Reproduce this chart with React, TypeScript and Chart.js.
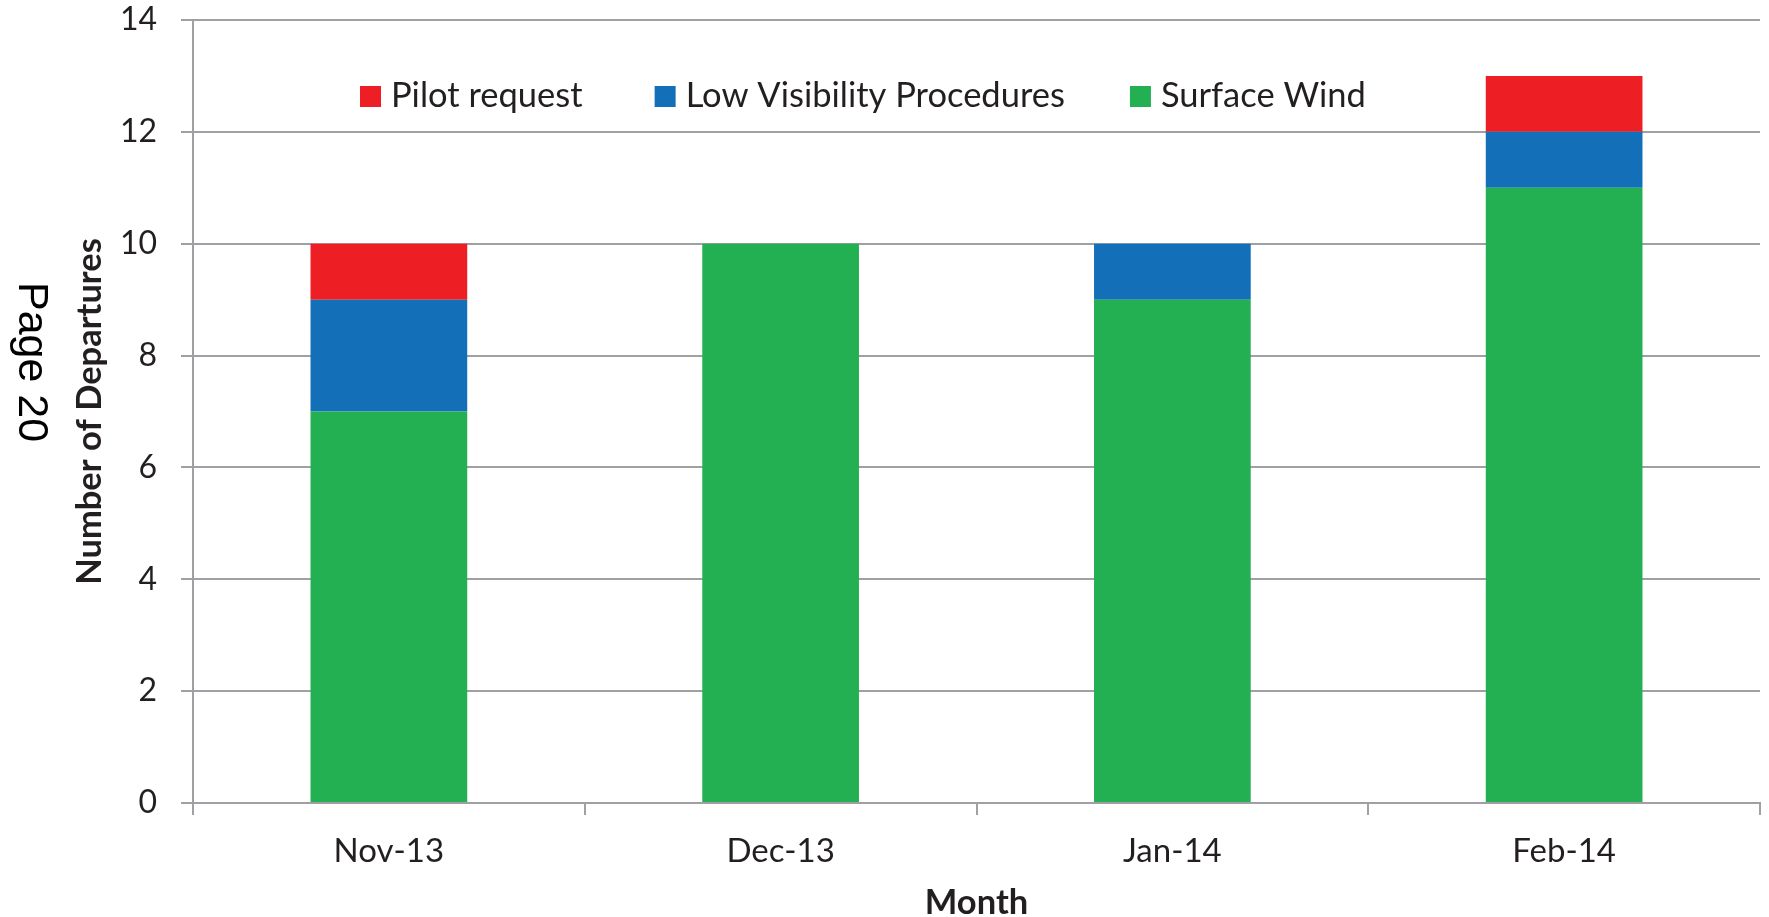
import React, { useEffect, useRef } from "react";
import { Chart, registerables } from "chart.js";

Chart.register(...registerables);

// ---- data ----
const months: string[] = ["Nov-13", "Dec-13", "Jan-14", "Feb-14"];
const surfaceWind: number[] = [7, 10, 9, 11];
const lowVisibility: number[] = [2, 0, 1, 1];
const pilotRequest: number[] = [1, 0, 0, 1];
const seriesLabels: string[] = ["Surface Wind", "Low Visibility Procedures", "Pilot request"];
const seriesColors: string[] = ["#23B052", "#1370B8", "#ED1F24"];
const yMin = 0;
const yMax = 14;
const yStep = 2;
const xTitle = "Month";
const yTitle = "Number of Departures";
const pageLabel = "Page 20";

const TEXT = "#231F20";
const GRID = "#A0A0A4";
const FONT = "Lato, 'Open Sans', sans-serif";
const LEGEND_GAPS = [72, 65, 0];

const insideLegend = {
  id: "insideLegend",
  afterDraw(chart: any) {
    const { ctx, chartArea } = chart;
    ctx.save();
    ctx.font = `34.5px ${FONT}`;
    ctx.textBaseline = "alphabetic";
    ctx.textAlign = "left";
    let x = chartArea.left + 167;
    const baseY = chartArea.top + 87;
    const items = chart.data.datasets.slice().reverse();
    items.forEach((ds: any, i: number) => {
      ctx.fillStyle = ds.backgroundColor;
      ctx.fillRect(x, baseY - 21, 21, 21);
      ctx.fillStyle = TEXT;
      ctx.fillText(ds.label, x + 31, baseY);
      x += 31 + ctx.measureText(ds.label).width + LEGEND_GAPS[i];
    });
    ctx.restore();
  },
};

const pageText = {
  id: "pageText",
  afterDraw(chart: any) {
    const { ctx } = chart;
    ctx.save();
    ctx.translate(19, 282);
    ctx.rotate(Math.PI / 2);
    ctx.font = `43px 'Liberation Sans', Arial, sans-serif`;
    ctx.fillStyle = "#000000";
    ctx.textBaseline = "alphabetic";
    ctx.textAlign = "left";
    ctx.fillText(pageLabel, 0, 0);
    ctx.restore();
  },
};

export default function App() {
  const canvasRef = useRef<HTMLCanvasElement | null>(null);

  useEffect(() => {
    document.body.style.margin = "0";
    const canvas = canvasRef.current;
    if (!canvas) return;
    const data = [surfaceWind, lowVisibility, pilotRequest];
    const chart = new Chart(canvas, {
      type: "bar",
      data: {
        labels: months,
        datasets: data.map((values, i) => ({
          label: seriesLabels[i],
          data: values,
          backgroundColor: seriesColors[i],
          borderWidth: 0,
          barPercentage: 0.4,
          categoryPercentage: 1,
        })),
      },
      options: {
        responsive: false,
        animation: false,
        devicePixelRatio: 1,
        layout: { padding: { left: 0, right: 9, top: 20, bottom: 0 } },
        plugins: {
          legend: { display: false },
          tooltip: { enabled: false },
          title: { display: false },
        },
        scales: {
          x: {
            stacked: true,
            grid: {
              offset: true,
              drawOnChartArea: false,
              drawTicks: true,
              tickLength: 12,
              color: GRID,
              lineWidth: 2,
            },
            border: { display: true, color: GRID, width: 2 },
            ticks: {
              color: TEXT,
              font: { family: FONT, size: 33 },
              padding: 17,
              maxRotation: 0,
            },
            title: {
              display: true,
              text: xTitle,
              color: TEXT,
              font: { family: FONT, size: 34.5, weight: "bold", lineHeight: 0.8 },
              padding: { top: 0, bottom: 0 },
            },
            afterFit(scale: any) {
              scale.height = 114;
              scale.paddingLeft = 0;
              scale.paddingRight = 0;
            },
          },
          y: {
            stacked: true,
            min: yMin,
            max: yMax,
            grid: {
              drawTicks: true,
              tickLength: 12,
              color: GRID,
              lineWidth: 2,
            },
            border: { display: true, color: GRID, width: 2 },
            ticks: {
              stepSize: yStep,
              color: TEXT,
              font: { family: FONT, size: 32 },
              padding: 24,
            },
            title: {
              display: true,
              text: yTitle,
              color: TEXT,
              font: { family: FONT, size: 34.5, weight: "bold", lineHeight: 1 },
              padding: { top: 73, bottom: 0 },
            },
            afterFit(scale: any) {
              scale.width = 193;
              scale.paddingTop = 0;
              scale.paddingBottom = 0;
            },
          },
        },
      },
      plugins: [insideLegend, pageText],
    });
    return () => chart.destroy();
  }, []);

  return (
    <div style={{ width: 1769, height: 917, position: "relative", background: "#ffffff" }}>
      <canvas ref={canvasRef} width={1769} height={917} style={{ display: "block" }} />
    </div>
  );
}
